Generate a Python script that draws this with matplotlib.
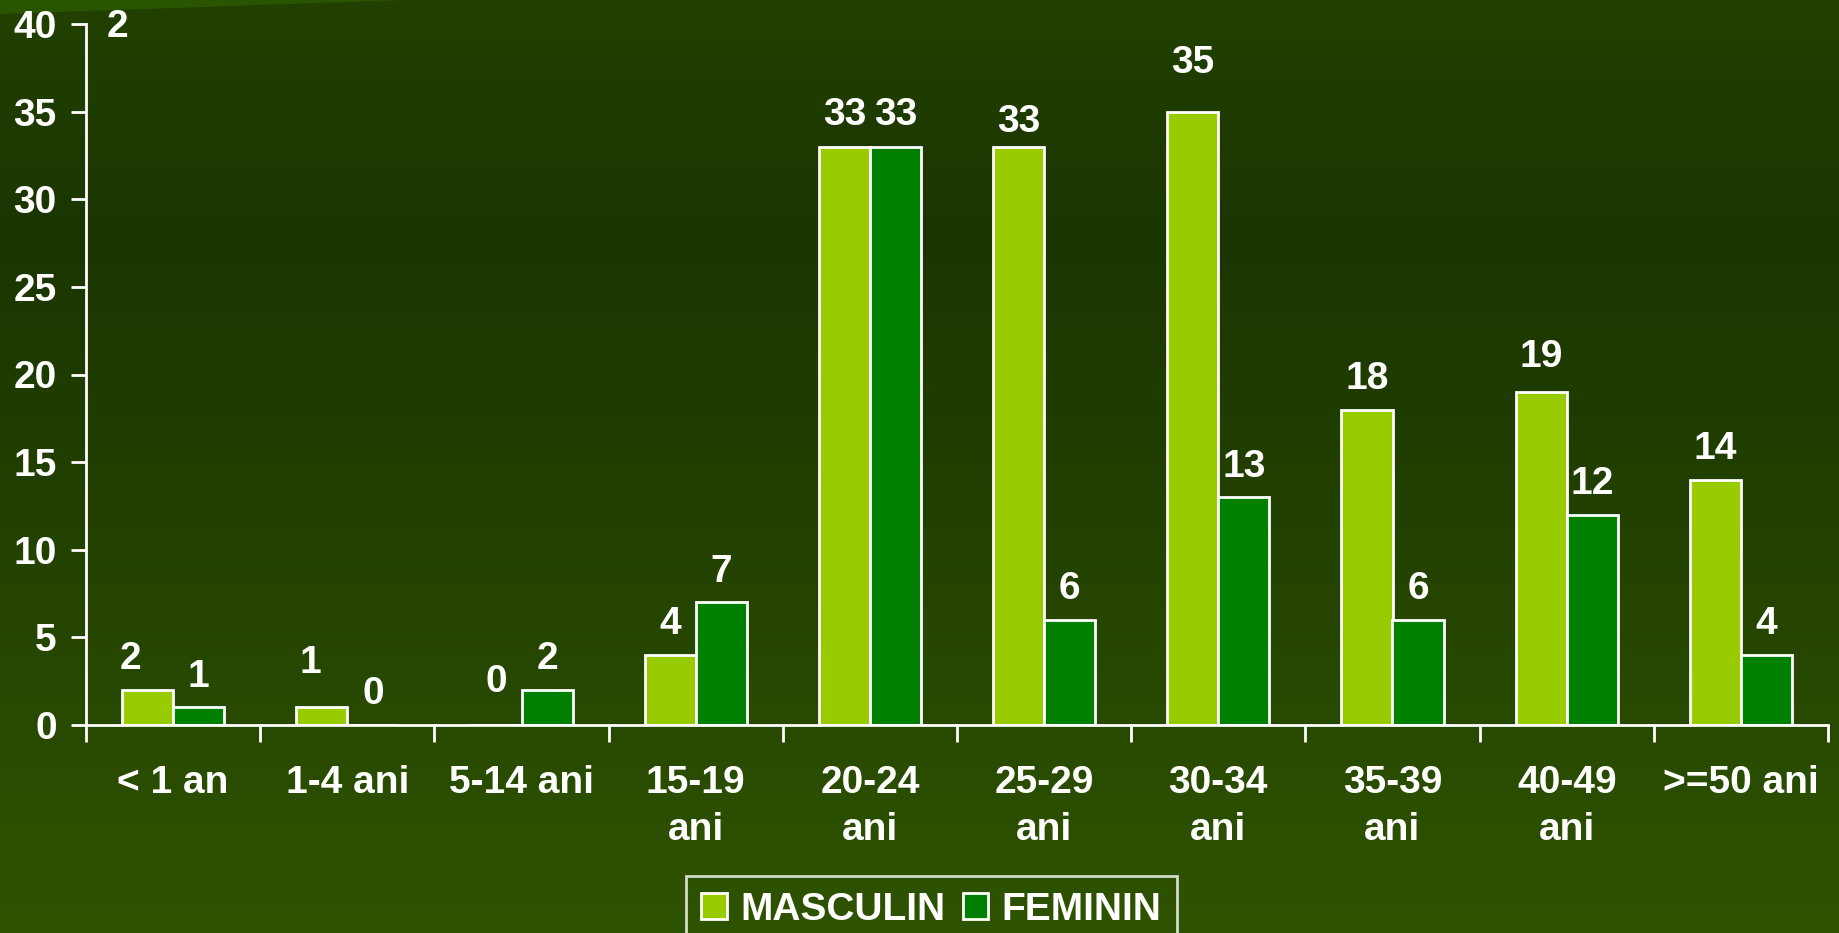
import matplotlib.pyplot as plt
import numpy as np
from matplotlib.colors import LinearSegmentedColormap
from matplotlib.patches import Polygon

# Data
categories = ['< 1 an', '1-4 ani', '5-14 ani', '15-19\nani', '20-24\nani',
              '25-29\nani', '30-34\nani', '35-39\nani', '40-49\nani', '>=50 ani']
masculin = [2, 1, 0, 4, 33, 33, 35, 18, 19, 14]
feminin = [1, 0, 2, 7, 33, 6, 13, 6, 12, 4]
series_names = ['MASCULIN', 'FEMININ']
yticks = [0, 5, 10, 15, 20, 25, 30, 35, 40]

# label offsets (points) - the original labels are not all placed the same
off_m = [(-12, 22), (-8, 32), (0, 31), (0, 22), (0, 23), (0, 18), (0, 35), (0, 22), (0, 25), (0, 22)]
off_f = [(0, 22), (0, 22), (0, 22), (0, 22), (0, 23), (0, 22), (0, 22), (0, 22), (0, 22), (0, 22)]

col_m = '#99cc00'
col_f = '#008000'
FS = 28

plt.rcParams['font.family'] = ['Liberation Sans', 'DejaVu Sans']
plt.rcParams['font.weight'] = 'bold'

fig = plt.figure(figsize=(18.4, 9.33), dpi=100)

# background gradient
bg = fig.add_axes([0, 0, 1, 1], zorder=-10)
cmap = LinearSegmentedColormap.from_list('bg', [(0.0, '#224100'), (0.25, '#1b3500'),
                                                (1.0, '#2e5300')])
bg.imshow(np.linspace(0, 1, 256).reshape(-1, 1), cmap=cmap, aspect='auto',
          extent=[0, 1, 0, 1], origin='upper')
bg.add_patch(Polygon([(0, 1), (0.22, 1), (0, 1 - 14 / 933)], closed=True,
                     color='#2a5500', lw=0))
bg.set_xlim(0, 1)
bg.set_ylim(0, 1)
bg.axis('off')

ax = fig.add_axes([86 / 1840, 1 - 725 / 933, (1828 - 86) / 1840, (725 - 24) / 933])
ax.patch.set_alpha(0)

x = np.arange(len(categories))
w = 0.293
b1 = ax.bar(x - w / 2, masculin, w, color=col_m, edgecolor='white', linewidth=2,
            label=series_names[0])
b2 = ax.bar(x + w / 2, feminin, w, color=col_f, edgecolor='white', linewidth=2,
            label=series_names[1])

for xs, vals, offs in [(x - w / 2, masculin, off_m), (x + w / 2, feminin, off_f)]:
    for xi, v, o in zip(xs, vals, offs):
        ax.annotate(str(v), (xi, v), xytext=o, textcoords='offset points',
                    ha='center', va='center', color='white', fontsize=FS,
                    fontweight='bold', annotation_clip=False)

# stray label at top left, as in the original
ax.annotate(str(masculin[0]), (-0.32, 40), xytext=(0, -2), textcoords='offset points',
            ha='center', va='center', color='white',
            fontsize=FS, fontweight='bold', annotation_clip=False)

ax.set_xlim(-0.5, len(categories) - 0.5)
ax.set_ylim(0, 40)
ax.set_yticks(yticks)
ax.set_xticks(np.arange(-0.5, len(categories)), [''] * (len(categories) + 1))
ax.set_xticks(x, categories, minor=True)
ax.tick_params(axis='x', which='major', length=12, width=2, color='white', direction='out')
ax.tick_params(axis='x', which='minor', length=0, pad=29, labelsize=FS, labelcolor='white')
ax.tick_params(axis='y', length=11, width=2, color='white', pad=10, labelsize=FS,
               labelcolor='white')
for lbl in ax.get_xticklabels(minor=True):
    lbl.set_linespacing(1.38)
    lbl.set_fontweight('bold')
for lbl in ax.get_yticklabels():
    lbl.set_fontweight('bold')

for s in ['top', 'right']:
    ax.spines[s].set_visible(False)
for s in ['left', 'bottom']:
    ax.spines[s].set_color('white')
    ax.spines[s].set_linewidth(2)

leg = fig.legend(handles=[b1, b2], loc='upper center',
                 bbox_to_anchor=(931.5 / 1840, 1 - 876 / 933), ncol=2,
                 frameon=True, fancybox=False, edgecolor='white', facecolor='none',
                 handlelength=0.65, handleheight=0.65, handletextpad=0.35,
                 columnspacing=0.45, borderpad=0.4, borderaxespad=0, labelcolor='white',
                 prop={'weight': 'bold', 'size': FS})
leg.get_frame().set_linewidth(2)

fig.savefig('out.png', dpi=100)
